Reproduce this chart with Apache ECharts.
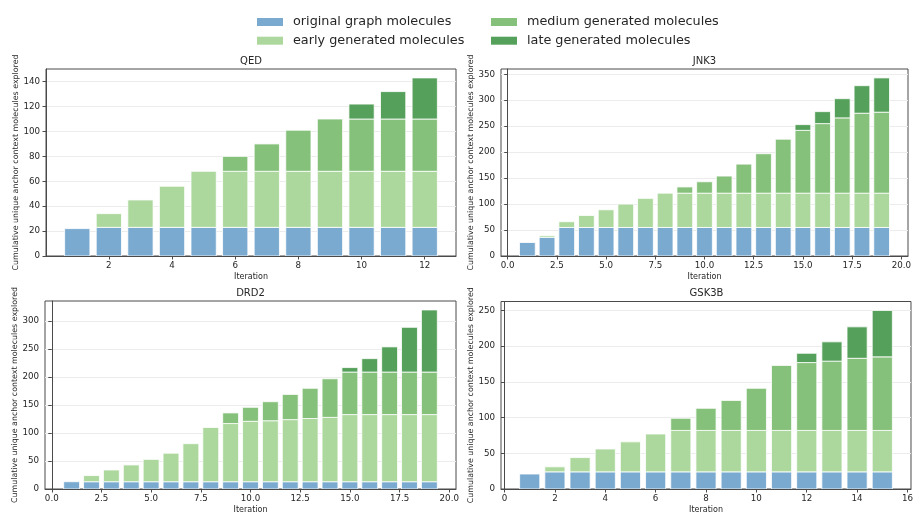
<!DOCTYPE html>
<html>
<head>
<meta charset="utf-8">
<title>Cumulative unique anchor context molecules explored</title>
<script src="https://cdn.jsdelivr.net/npm/echarts@6/dist/echarts.min.js"></script>
<style>
  html, body { margin: 0; padding: 0; background: #fff; }
  #chart { width: 916px; height: 515px; }
</style>
</head>
<body>
<div id="chart"></div>
<script>
// ---- data: molecules added per iteration, by the stage they were generated in ----
const layerNames = ['original graph molecules', 'early generated molecules', 'medium generated molecules', 'late generated molecules'];

// QED
const qedIterations = [1, 2, 3, 4, 5, 6, 7, 8, 9, 10, 11, 12];
const qedOriginal = [22, 23, 23, 23, 23, 23, 23, 23, 23, 23, 23, 23];
const qedEarly    = [0, 11, 22, 33, 45, 45, 45, 45, 45, 45, 45, 45];
const qedMedium   = [0, 0, 0, 0, 0, 12, 22, 33, 42, 42, 42, 42];
const qedLate     = [0, 0, 0, 0, 0, 0, 0, 0, 0, 12, 22, 33];
const qedXTicks = [2, 4, 6, 8, 10, 12];
const qedYTicks = [0, 20, 40, 60, 80, 100, 120, 140];

// JNK3
const jnk3Iterations = [1, 2, 3, 4, 5, 6, 7, 8, 9, 10, 11, 12, 13, 14, 15, 16, 17, 18, 19];
const jnk3Original = [26, 36, 55, 55, 55, 55, 55, 55, 55, 55, 55, 55, 55, 55, 55, 55, 55, 55, 55];
const jnk3Early    = [0, 3, 11, 23, 34, 45, 56, 66, 66, 66, 66, 66, 66, 66, 66, 66, 66, 66, 66];
const jnk3Medium   = [0, 0, 0, 0, 0, 0, 0, 0, 12, 22, 33, 56, 76, 104, 121, 134, 145, 154, 156];
const jnk3Late     = [0, 0, 0, 0, 0, 0, 0, 0, 0, 0, 0, 0, 0, 0, 11, 23, 37, 53, 66];
const jnk3XTicks = [0, 2.5, 5, 7.5, 10, 12.5, 15, 17.5, 20];
const jnk3YTicks = [0, 50, 100, 150, 200, 250, 300, 350];

// DRD2
const drd2Iterations = [1, 2, 3, 4, 5, 6, 7, 8, 9, 10, 11, 12, 13, 14, 15, 16, 17, 18, 19];
const drd2Original = [13, 13, 13, 13, 13, 13, 13, 13, 13, 13, 13, 13, 13, 13, 13, 13, 13, 13, 13];
const drd2Early    = [0, 11, 21, 30, 40, 51, 68, 97, 104, 108, 109, 111, 113, 115, 120, 120, 120, 120, 120];
const drd2Medium   = [0, 0, 0, 0, 0, 0, 0, 0, 19, 25, 34, 45, 54, 69, 76, 76, 76, 76, 76];
const drd2Late     = [0, 0, 0, 0, 0, 0, 0, 0, 0, 0, 0, 0, 0, 0, 8, 24, 45, 80, 111];
const drd2XTicks = [0, 2.5, 5, 7.5, 10, 12.5, 15, 17.5, 20];
const drd2YTicks = [0, 50, 100, 150, 200, 250, 300];

// GSK3B
const gsk3bIterations = [1, 2, 3, 4, 5, 6, 7, 8, 9, 10, 11, 12, 13, 14, 15];
const gsk3bOriginal = [21, 24, 24, 24, 24, 24, 24, 24, 24, 24, 24, 24, 24, 24, 24];
const gsk3bEarly    = [0, 7, 20, 32, 42, 53, 58, 58, 58, 58, 58, 58, 58, 58, 58];
const gsk3bMedium   = [0, 0, 0, 0, 0, 0, 17, 31, 42, 59, 91, 95, 97, 101, 103];
const gsk3bLate     = [0, 0, 0, 0, 0, 0, 0, 0, 0, 0, 0, 13, 27, 44, 65];
const gsk3bXTicks = [0, 2, 4, 6, 8, 10, 12, 14, 16];
const gsk3bYTicks = [0, 50, 100, 150, 200, 250];

// ---- styling ----
const FONT = 'DejaVu Sans';
const layerColors = ['#7aaad0', '#acd89d', '#86c17b', '#55a05a'];
const BAR_WIDTH = 0.8;
const TEXT = '#262626';
const FRAME = '#4a4a4a';

const panels = [
  { title: 'QED',   iters: qedIterations,   layers: [qedOriginal, qedEarly, qedMedium, qedLate],
    xTicks: qedXTicks, xDigits: 0, yTicks: qedYTicks, yStep: 20,
    box: { left: 46, top: 69, width: 410, height: 187 } },
  { title: 'JNK3',  iters: jnk3Iterations,  layers: [jnk3Original, jnk3Early, jnk3Medium, jnk3Late],
    xTicks: jnk3XTicks, xDigits: 1, yTicks: jnk3YTicks, yStep: 50,
    box: { left: 501, top: 69, width: 407, height: 187 } },
  { title: 'DRD2',  iters: drd2Iterations,  layers: [drd2Original, drd2Early, drd2Medium, drd2Late],
    xTicks: drd2XTicks, xDigits: 1, yTicks: drd2YTicks, yStep: 50,
    box: { left: 45, top: 301, width: 411, height: 188 } },
  { title: 'GSK3B', iters: gsk3bIterations, layers: [gsk3bOriginal, gsk3bEarly, gsk3bMedium, gsk3bLate],
    xTicks: gsk3bXTicks, xDigits: 0, yTicks: gsk3bYTicks, yStep: 50,
    box: { left: 501, top: 301.5, width: 411, height: 187.5 } }
];

function renderBar(params, api) {
  const x = api.value(0), lo = api.value(1), hi = api.value(2);
  if (!(hi > lo)) return null;
  const p0 = api.coord([x - BAR_WIDTH / 2, hi]);
  const p1 = api.coord([x + BAR_WIDTH / 2, lo]);
  return {
    type: 'rect',
    shape: { x: p0[0], y: p0[1], width: p1[0] - p0[0], height: p1[1] - p0[1] },
    style: api.style({ stroke: '#ffffff', lineWidth: 0.8 })
  };
}

const grids = [], xAxes = [], yAxes = [], titles = [], series = [];

panels.forEach((p, i) => {
  grids.push(Object.assign({ show: true, borderColor: FRAME, borderWidth: 1, backgroundColor: 'transparent' }, p.box));
  titles.push({
    text: p.title, left: p.box.left + p.box.width / 2, top: p.box.top - 13, textAlign: 'center', padding: 0,
    textStyle: { fontFamily: FONT, fontSize: 10, fontWeight: 'normal', color: TEXT }
  });

  // matplotlib-style autoscale: bar extent plus 5% padding
  const lo = Math.min(...p.iters) - BAR_WIDTH / 2, hi = Math.max(...p.iters) + BAR_WIDTH / 2;
  const pad = 0.05 * (hi - lo);
  xAxes.push({
    type: 'value', gridIndex: i, min: lo - pad, max: hi + pad,
    name: 'Iteration', nameLocation: 'middle', nameGap: 17,
    nameTextStyle: { fontFamily: FONT, fontSize: 8, color: TEXT },
    axisLine: { show: true, lineStyle: { color: FRAME, width: 1 } },
    axisTick: { show: true, length: 3.5, customValues: p.xTicks, lineStyle: { color: FRAME } },
    axisLabel: { customValues: p.xTicks, margin: 5, fontFamily: FONT, fontSize: 8.7, color: TEXT,
      formatter: v => Number(v).toFixed(p.xDigits) },
    splitLine: { show: false }
  });

  const totals = p.iters.map((_, k) => p.layers.reduce((s, arr) => s + arr[k], 0));
  yAxes.push({
    type: 'value', gridIndex: i, min: 0, max: Math.max(...totals) * 1.05, interval: p.yStep,
    name: 'Cumulative unique anchor context molecules explored', nameLocation: 'middle', nameGap: 24,
    nameTextStyle: { fontFamily: FONT, fontSize: 7.9, color: TEXT },
    axisLine: { show: true, lineStyle: { color: FRAME, width: 1 } },
    axisTick: { show: true, length: 3.5, customValues: p.yTicks, lineStyle: { color: FRAME } },
    axisLabel: { customValues: p.yTicks, margin: 6, fontFamily: FONT, fontSize: 8.7, color: TEXT },
    splitLine: { show: true, lineStyle: { color: '#ececec', width: 1 } }
  });

  const base = p.iters.map(() => 0);
  p.layers.forEach((arr, L) => {
    const data = p.iters.map((it, k) => {
      const d = [it, base[k], base[k] + arr[k]];
      base[k] += arr[k];
      return d;
    });
    series.push({
      type: 'custom', name: layerNames[L], xAxisIndex: i, yAxisIndex: i,
      renderItem: renderBar, clip: true, silent: true,
      itemStyle: { color: layerColors[L] },
      encode: { x: 0, y: [1, 2] },
      data: data
    });
  });
});

const legendText = { fontFamily: FONT, fontSize: 12.8, color: TEXT, lineHeight: 14, padding: [0, 0, 0, 5] };
const chart = echarts.init(document.getElementById('chart'), null, { renderer: 'canvas' });
chart.setOption({
  backgroundColor: '#ffffff',
  animation: false,
  title: titles,
  legend: [
    { orient: 'vertical', left: 252, top: 10, itemWidth: 26, itemHeight: 8, itemGap: 4.7, icon: 'rect',
      data: [layerNames[0], layerNames[1]], textStyle: legendText, selectedMode: false },
    { orient: 'vertical', left: 486, top: 10, itemWidth: 26, itemHeight: 8, itemGap: 4.7, icon: 'rect',
      data: [layerNames[2], layerNames[3]], textStyle: legendText, selectedMode: false }
  ],
  grid: grids,
  xAxis: xAxes,
  yAxis: yAxes,
  series: series
});
</script>
</body>
</html>
